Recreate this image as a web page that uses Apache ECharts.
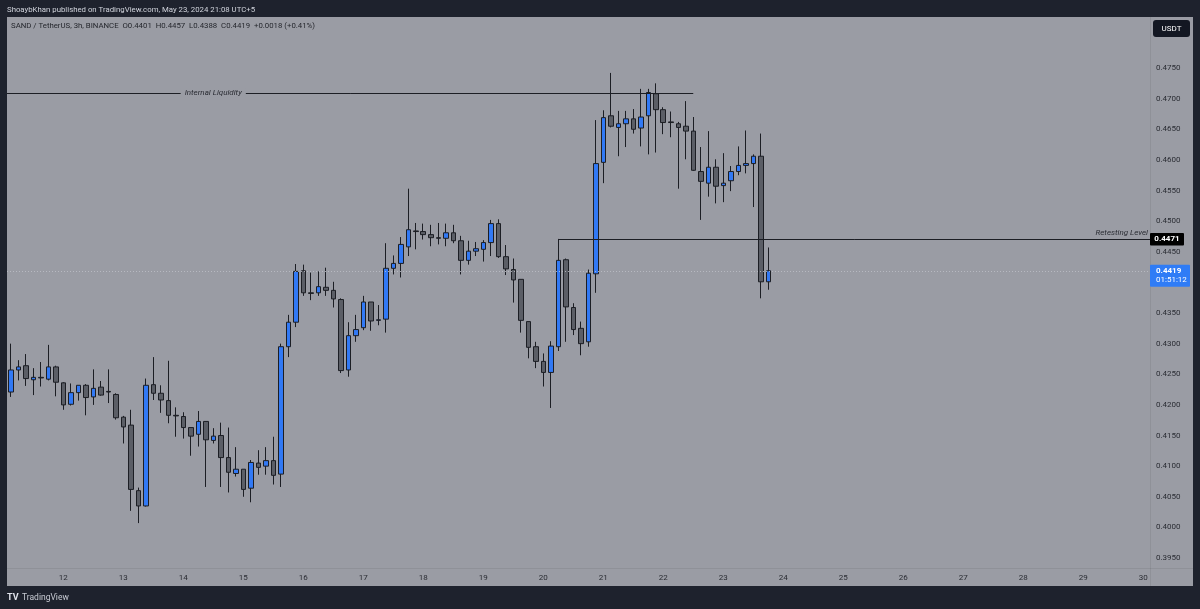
<!DOCTYPE html>
<html><head><meta charset="utf-8">
<script src="https://cdn.jsdelivr.net/npm/echarts@6/dist/echarts.min.js"></script>
<style>html,body{margin:0;padding:0;background:#1e222d;}#c{width:1200px;height:609px;}</style>
</head><body><div id="c"></div>
<script>
// ---- data (3h candles, SAND/USDT) ----
const open = [0.4221,0.4257,0.4264,0.4241,0.4245,0.4242,0.4262,0.4236,0.4201,0.4220,
0.4232,0.4213,0.4229,0.4222,0.4217,0.4180,0.4167,0.4060,0.4035,0.4233,
0.4219,0.4207,0.4183,0.4181,0.4163,0.4152,0.4173,0.4142,0.4150,0.4114,
0.4088,0.4095,0.4064,0.4105,0.4100,0.4109,0.4087,0.4295,0.4335,0.4419,
0.4383,0.4383,0.4392,0.4387,0.4372,0.4257,0.4313,0.4326,0.4368,0.4338,
0.4340,0.4423,0.4431,0.4458,0.4484,0.4483,0.4478,0.4473,0.4472,0.4481,
0.4468,0.4436,0.4451,0.4454,0.4465,0.4496,0.4442,0.4421,0.4405,0.4336,
0.4295,0.4271,0.4253,0.4295,0.4437,0.4359,0.4325,0.4303,0.4414,0.4596,
0.4672,0.4653,0.4659,0.4667,0.4652,0.4672,0.4708,0.4682,0.4662,0.4659,
0.4655,0.4647,0.4581,0.4562,0.4588,0.4558,0.4566,0.4581,0.4591,0.4594,
0.4606,0.4401];
const high = [0.4300,0.4273,0.4283,0.4260,0.4270,0.4298,0.4264,0.4237,0.4235,0.4232,
0.4234,0.4258,0.4239,0.4258,0.4219,0.4182,0.4192,0.4065,0.4243,0.4278,
0.4232,0.4272,0.4196,0.4188,0.4163,0.4190,0.4173,0.4162,0.4171,0.4163,
0.4131,0.4095,0.4110,0.4126,0.4131,0.4148,0.4300,0.4347,0.4430,0.4429,
0.4416,0.4418,0.4424,0.4401,0.4374,0.4335,0.4347,0.4378,0.4368,0.4363,
0.4464,0.4444,0.4474,0.4553,0.4497,0.4496,0.4494,0.4497,0.4496,0.4494,
0.4476,0.4468,0.4466,0.4469,0.4502,0.4503,0.4461,0.4439,0.4405,0.4336,
0.4303,0.4284,0.4304,0.4471,0.4439,0.4366,0.4336,0.4421,0.4665,0.4681,
0.4742,0.4680,0.4680,0.4683,0.4716,0.4716,0.4725,0.4686,0.4679,0.4662,
0.4696,0.4670,0.4621,0.4647,0.4601,0.4611,0.4590,0.4622,0.4648,0.4609,
0.4643,0.4457];
const low = [0.4213,0.4240,0.4231,0.4216,0.4230,0.4240,0.4214,0.4192,0.4199,0.4207,
0.4183,0.4200,0.4215,0.4203,0.4176,0.4137,0.4027,0.4007,0.4034,0.4208,
0.4187,0.4170,0.4148,0.4145,0.4117,0.4132,0.4066,0.4137,0.4066,0.4057,
0.4083,0.4050,0.4041,0.4086,0.4086,0.4070,0.4066,0.4278,0.4327,0.4378,
0.4371,0.4378,0.4378,0.4359,0.4252,0.4246,0.4303,0.4322,0.4321,0.4330,
0.4318,0.4413,0.4408,0.4443,0.4454,0.4470,0.4459,0.4462,0.4459,0.4464,
0.4413,0.4429,0.4443,0.4434,0.4443,0.4440,0.4412,0.4367,0.4318,0.4276,
0.4260,0.4230,0.4195,0.4288,0.4303,0.4314,0.4281,0.4295,0.4383,0.4562,
0.4653,0.4606,0.4621,0.4643,0.4622,0.4609,0.4612,0.4642,0.4637,0.4553,
0.4601,0.4582,0.4502,0.4540,0.4529,0.4531,0.4549,0.4575,0.4578,0.4523,
0.4374,0.4388];
const close = [0.4257,0.4262,0.4243,0.4245,0.4244,0.4262,0.4237,0.4200,0.4220,0.4232,
0.4212,0.4227,0.4216,0.4221,0.4179,0.4164,0.4062,0.4035,0.4232,0.4219,
0.4208,0.4183,0.4182,0.4163,0.4149,0.4173,0.4143,0.4149,0.4114,0.4090,
0.4095,0.4062,0.4106,0.4098,0.4109,0.4085,0.4295,0.4335,0.4418,0.4383,
0.4382,0.4393,0.4387,0.4373,0.4256,0.4313,0.4323,0.4368,0.4337,0.4339,
0.4423,0.4431,0.4462,0.4486,0.4483,0.4478,0.4473,0.4472,0.4481,0.4468,
0.4436,0.4451,0.4455,0.4465,0.4496,0.4442,0.4422,0.4404,0.4338,0.4294,
0.4271,0.4253,0.4296,0.4436,0.4360,0.4323,0.4300,0.4415,0.4594,0.4669,
0.4655,0.4659,0.4667,0.4650,0.4670,0.4710,0.4682,0.4661,0.4661,0.4653,
0.4647,0.4583,0.4565,0.4588,0.4557,0.4562,0.4581,0.4591,0.4594,0.4606,
0.4401,0.4419];
const dayLabels = ['12','13','14','15','16','17','18','19','20','21','22','23','24','25','26','27','28','29','30'];
const priceTicks = [0.3950,0.4000,0.4050,0.4100,0.4150,0.4200,0.4250,0.4300,0.4350,0.4400,0.4450,0.4500,0.4550,0.4600,0.4650,0.4700,0.4750];
const internalLiquidity = 0.4709;
const liquidityLabelIndex = 27;
const liquidityEndIndex = 91;
const retestLevel = 0.4471;
const retestStartIndex = 73;
const lastClose = 0.4419;
const countdown = '01:51:12';
const headerText = 'SAND / TetherUS, 3h, BINANCE  O0.4401  H0.4457  L0.4388  C0.4419  +0.0018 (+0.41%)';
const titleText = 'ShoaybKhan published on TradingView.com, May 23, 2024 21:08 UTC+5';

// categories: 3h slots starting May 11 03:00 (152 slots up to May 30 00:00)
const SLOTS = 152;
const categories = [];
for (let i = 0; i < SLOTS; i++) {
  const h = 3 + 3 * i;
  const d = 11 + Math.floor(h / 24);
  const hh = h % 24;
  categories.push(d + ' ' + String(hh).padStart(2, '0') + ':00');
}
const ohlc = open.map((o, i) => [o, close[i], low[i], high[i]]);

const PANEL = '#9a9ca4';
const DARK = '#1c1e24';
const FONT = 'Roboto, "Noto Sans", sans-serif';

const chart = echarts.init(document.getElementById('c'), null, {renderer: 'canvas'});
const option = {
  animation: false,
  backgroundColor: '#1e222d',
  grid: {left: 7, right: 53, top: 17, bottom: 41},
  xAxis: {
    type: 'category', data: categories, boundaryGap: true,
    axisLine: {show: false}, axisTick: {show: false}, splitLine: {show: false},
    axisLabel: {
      interval: (idx, val) => val.endsWith(' 00:00'),
      formatter: (val) => { const d = parseInt(val, 10); return dayLabels[dayLabels.indexOf(String(d))] || ''; },
      color: '#2a2c33', fontSize: 8, fontFamily: FONT, margin: 6
    }
  },
  yAxis: {
    type: 'value', position: 'right', min: 0.39337, max: 0.48333, scale: true,
    axisLine: {show: false}, axisTick: {show: false}, splitLine: {show: false},
    axisLabel: {customValues: priceTicks, formatter: v => v.toFixed(4), color: '#2a2c33', fontSize: 8, fontFamily: FONT, margin: 9}
  },
  series: [{
    type: 'candlestick', data: ohlc, barWidth: 5,
    itemStyle: {color: '#3179f5', color0: '#5b5e66', borderColor: DARK, borderColor0: DARK, borderWidth: 1},
    emphasis: {disabled: true},
    markLine: {
      silent: true, symbol: ['none', 'none'], animation: false,
      data: [
        [{x: 7, yAxis: internalLiquidity, lineStyle: {color: DARK, width: 1, type: 'solid'}, label: {show: false}},
         {coord: [liquidityEndIndex, internalLiquidity]}],
        [{coord: [retestStartIndex, retestLevel], lineStyle: {color: DARK, width: 1, type: 'solid'},
          label: {show: true, position: 'insideEndTop', formatter: 'Retesting Level', fontStyle: 'italic', fontSize: 8, fontFamily: FONT, color: '#2a2c33', distance: 2}},
         {x: 1150, yAxis: retestLevel}],
        [{x: 7, yAxis: lastClose, lineStyle: {color: 'rgba(190,192,200,0.8)', width: 1, type: [1, 2]}, label: {show: false}},
         {x: 1150, yAxis: lastClose}]
      ]
    },
    markPoint: {
      silent: true, animation: false, symbol: 'rect', symbolSize: 0,
      data: [{coord: [liquidityLabelIndex, internalLiquidity],
        label: {show: true, position: 'inside', formatter: 'Internal Liquidity', fontStyle: 'italic', fontSize: 8, fontFamily: FONT, color: '#2a2c33', backgroundColor: PANEL, padding: [1, 4]}}]
    }
  }]
};
chart.setOption(option);

const yR = chart.convertToPixel({yAxisIndex: 0}, retestLevel);
const yC = chart.convertToPixel({yAxisIndex: 0}, lastClose);
chart.setOption({
  graphic: [
    {type: 'rect', z: -5, silent: true, shape: {x: 7, y: 17, width: 1186, height: 569}, style: {fill: PANEL}},
    {type: 'line', z: 50, silent: true, shape: {x1: 1150.5, y1: 17, x2: 1150.5, y2: 586}, style: {stroke: 'rgba(0,0,0,0.07)', lineWidth: 1}},
    {type: 'line', z: 50, silent: true, shape: {x1: 7, y1: 568.5, x2: 1193, y2: 568.5}, style: {stroke: 'rgba(0,0,0,0.07)', lineWidth: 1}},
    {type: 'text', z: 100, silent: true, x: 7, y: 10, style: {text: titleText, fill: '#d1d4dc', font: '7.8px ' + FONT, verticalAlign: 'middle'}},
    {type: 'text', z: 100, silent: true, x: 11, y: 26.5, style: {text: headerText, fill: '#25272d', font: '7.8px ' + FONT, verticalAlign: 'middle'}},
    {type: 'rect', z: 100, silent: true, shape: {x: 1153, y: 20, width: 37, height: 17, r: 3}, style: {fill: '#131722'}},
    {type: 'text', z: 101, silent: true, x: 1171.5, y: 28.5, style: {text: 'USDT', fill: '#ffffff', font: '8px ' + FONT, align: 'center', verticalAlign: 'middle'}},
    {type: 'rect', z: 100, silent: true, shape: {x: 1150, y: yR - 6, width: 34, height: 12.5, r: 1}, style: {fill: '#000000'}},
    {type: 'text', z: 101, silent: true, x: 1167, y: yR, style: {text: retestLevel.toFixed(4), fill: '#ffffff', font: 'bold 8px ' + FONT, align: 'center', verticalAlign: 'middle'}},
    {type: 'rect', z: 100, silent: true, shape: {x: 1150, y: yC - 6, width: 40, height: 22, r: 1}, style: {fill: '#2f7cf6'}},
    {type: 'text', z: 101, silent: true, x: 1156, y: yC, style: {text: lastClose.toFixed(4), fill: '#ffffff', font: 'bold 8px ' + FONT, verticalAlign: 'middle'}},
    {type: 'text', z: 101, silent: true, x: 1156, y: yC + 9.5, style: {text: countdown, fill: '#ffffff', font: '8px ' + FONT, verticalAlign: 'middle'}},
    {type: 'text', z: 100, silent: true, x: 7, y: 597.5, style: {text: 'TV', fill: '#e0e3eb', font: 'bold 9px ' + FONT, verticalAlign: 'middle'}},
    {type: 'text', z: 100, silent: true, x: 22, y: 597.5, style: {text: 'TradingView', fill: '#c8cbd3', font: '8.5px ' + FONT, verticalAlign: 'middle'}}
  ]
});
</script></body></html>
